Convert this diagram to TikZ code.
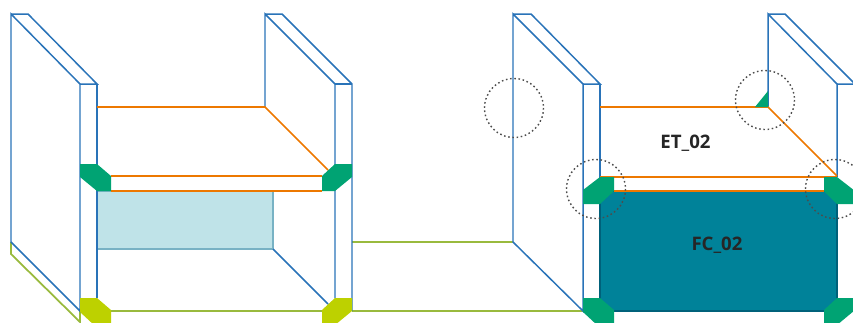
\documentclass[tikz,border=0pt]{standalone}
\usepackage{fontspec}
\setmainfont{Open Sans}
\definecolor{wallBlue}{rgb}{0.16, 0.45, 0.72}
\definecolor{beamOrange}{rgb}{0.93, 0.47, 0.0}
\definecolor{floorGreen}{rgb}{0.60, 0.73, 0.24}
\definecolor{jointGreen}{rgb}{0.0, 0.64, 0.45}
\definecolor{jointLime}{rgb}{0.74, 0.82, 0.0}
\definecolor{panelLight}{rgb}{0.75, 0.89, 0.91}
\definecolor{panelLightEdge}{rgb}{0.47, 0.70, 0.77}
\definecolor{panelDark}{rgb}{0.0, 0.51, 0.60}
\definecolor{panelDarkEdge}{rgb}{0.0, 0.38, 0.48}
\tikzset{
    wall/.style={draw=wallBlue, line width=0.85pt},
    beam/.style={draw=beamOrange, line width=1pt},
    floorline/.style={draw=floorGreen, line width=1pt},
    detail/.style={draw=black!70, dash pattern=on 0.9pt off 1.5pt, line width=0.8pt},
    label/.style={font=\bfseries\fontsize{10.6}{12}\selectfont, text=black!85, inner sep=0pt}
}
\begin{document}
\begin{tikzpicture}[x=0.02cm, y=-0.02cm]
            \clip (0,0) rectangle (853,322);

            % floor lines
            \draw[floorline] (11,242) -- (11,254) -- (80,322) -- (80,311);
            \draw[floorline] (111,311) -- (322,311);
            \draw[floorline] (352,242) -- (513,242);
            \draw[floorline] (352,311) -- (583,311);

            % light panel
            \draw[fill=panelLight, draw=panelLightEdge, line width=1pt] (97,191) rectangle (273,249);
            \draw[wall] (273,249) -- (328,304);

            % dark panel
            \draw[fill=panelDark, draw=panelDarkEdge, line width=1pt] (600,191) rectangle (837,311);

            % wall 1
            \draw[wall] (11,242) -- (11,14) -- (80,84) -- (80,311) -- cycle;
            \draw[wall] (11,14) -- (28,14) -- (97,84) -- (80,84);
            \draw[wall] (97,84) -- (97,298);

            % wall 2
            \draw[wall] (265,107) -- (265,14) -- (335,84) -- (335,298);
            \draw[wall] (265,14) -- (282,14) -- (352,84) -- (352,311);
            \draw[wall] (335,84) -- (352,84);

            % wall 3
            \draw[wall] (513,242) -- (513,14) -- (583,84) -- (583,311) -- cycle;
            \draw[wall] (513,14) -- (531,14) -- (600,84) -- (583,84);
            \draw[wall] (600,84) -- (600,191);

            % wall 4
            \draw[wall] (768,107) -- (768,14) -- (837,84) -- (837,177);
            \draw[wall] (768,14) -- (785,14) -- (855,84) -- (837,84);

            % beams
            \draw[beam] (97,107) -- (265,107) -- (328,170);
            \draw[beam] (111,176) -- (322,176);
            \draw[beam] (111,191) -- (322,191);
            \draw[beam] (600,107) -- (768,107) -- (837,176);
            \draw[beam] (600,177) -- (837,177);
            \draw[beam] (614,191) -- (824,191);

            % joints
            \fill[jointGreen] (80,164) -- (97,164) -- (111,176) -- (111,191) -- (97,191) -- (80,177) -- cycle;
            \fill[jointGreen] (335,164) -- (352,164) -- (352,177) -- (335,191) -- (322,191) -- (322,176) -- cycle;
            \fill[jointGreen] (583,190) -- (600,177) -- (614,177) -- (614,191) -- (600,204) -- (583,204) -- cycle;
            \fill[jointGreen] (824,177) -- (837,177) -- (855,191) -- (855,204) -- (837,204) -- (824,191) -- cycle;
            \fill[jointGreen] (583,298) -- (600,298) -- (614,310) -- (614,325) -- (597,325) -- (583,312) -- cycle;
            \fill[jointGreen] (837,298) -- (855,298) -- (855,310) -- (837,325) -- (824,325) -- (824,310) -- cycle;
            \fill[jointGreen] (755,107) -- (768,107) -- (768,91) -- cycle;
            \fill[jointLime] (80,298) -- (97,298) -- (111,310) -- (111,325) -- (94,325) -- (80,312) -- cycle;
            \fill[jointLime] (335,298) -- (352,298) -- (352,311) -- (335,325) -- (322,325) -- (322,310) -- cycle;

            % detail circles
            \draw[detail] (514,108) circle (29.5);
            \draw[detail] (596,189) circle (29.5);
            \draw[detail] (765,100) circle (29.5);
            \draw[detail] (835,189) circle (29.5);

            % labels
            \node[label] (et) at (685.5,143) {ET\_02};
            \node[label] (fc) at (717,245) {FC\_02};

        \end{tikzpicture}
\end{document}
